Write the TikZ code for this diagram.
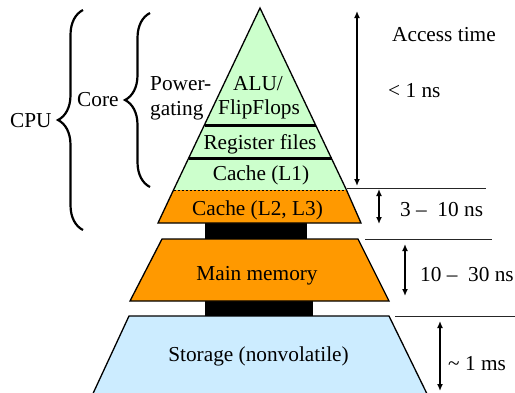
\documentclass[tikz,border=0pt]{standalone}
\usepackage{fontspec}
\setmainfont{Liberation Serif}
\usetikzlibrary{decorations.pathreplacing,arrows.meta}
\definecolor{lgreen}{RGB}{204,255,204}
\definecolor{orng}{RGB}{255,153,0}
\definecolor{lblue}{RGB}{204,236,255}
\begin{document}
\begin{tikzpicture}[x=1pt,y=-1pt,
  txt/.style={inner sep=0pt,font=\fontsize{21.3}{25}\selectfont},
  outl/.style={draw=black,line width=1.3pt,line join=miter},
  sep/.style={draw=black,line width=3pt},
  hline/.style={draw=black!85,line width=0.9pt},
  dbl/.style={line width=1.8pt,{Latex[length=7pt,width=6pt]}-{Latex[length=7pt,width=6pt]}},
  bracestyle/.style={decorate,line width=2.2pt,decoration={brace,amplitude=25pt}}]
\useasboundingbox (0,0) rectangle (515,392);
\begin{scope}
\clip (0,0) rectangle (515,392);
% black connectors
\fill[black] (205,223) rectangle (307,240);
\fill[black] (205,301) rectangle (313,317);
% green triangle
\fill[lgreen] (260,8) -- (346.5,190) -- (173.5,190) -- cycle;
\draw[outl] (173.5,190) -- (260,8) -- (346.5,190);
\draw[sep] (204.5,125) -- (315.5,125);
\draw[sep] (188.5,158) -- (331.5,158);
% orange cache L2 L3
\fill[orng] (173.5,190) -- (346.5,190) -- (361,223) -- (158,223) -- cycle;
\draw[outl] (346.5,190) -- (361,223) -- (158,223) -- (173.5,190);
\draw[black,line width=0.6pt,dash pattern=on 2pt off 2pt] (173.5,190) -- (346.5,190);
% main memory
\filldraw[outl,fill=orng] (162,239) -- (358,239) -- (389,301) -- (130,301) -- cycle;
% storage
\fill[lblue] (129,316) -- (389,316) -- (430,400) -- (90,400) -- cycle;
\draw[outl] (90,400) -- (129,316) -- (389,316) -- (430,400);
\end{scope}
% texts in pyramid
\node[txt,anchor=base] (alu) at (258,90) {ALU/};
\node[txt,anchor=base] (ff) at (259,114.5) {FlipFlops};
\node[txt,anchor=base] (reg) at (260,149.5) {Register files};
\node[txt,anchor=base] (l1) at (261,180) {Cache (L1)};
\node[txt,anchor=base] (l23) at (257.5,215) {Cache (L2, L3)};
\node[txt,anchor=base] (mm) at (257,280) {Main memory};
\node[txt,anchor=base] (st) at (258.5,361.5) {Storage (nonvolatile)};
% left labels
\node[txt,anchor=base west] (cpu) at (10,127.5) {CPU};
\node[txt,anchor=base west] (core) at (77,106) {Core};
\node[txt,anchor=base west] (pw1) at (150,90.5) {Power-};
\node[txt,anchor=base west] (pw2) at (150,115) {gating};
% braces
\coordinate (cpub) at (83,230);
\coordinate (cput) at (83,10);
\coordinate (coreb) at (150,187);
\coordinate (coret) at (150,13);
\draw[bracestyle] (cpub) -- (cput);
\draw[bracestyle] (coreb) -- (coret);
% right side
\node[txt,anchor=base west] (acc) at (392,41) {Access time};
\node[txt,anchor=base west] (t1) at (388,97) {< 1 ns};
\node[txt,anchor=base west] (t2) at (400,216) {3 –\ \ 10 ns};
\node[txt,anchor=base west] (t3) at (420,281) {10 –\ \ 30 ns};
\node[txt,anchor=base west] (t4) at (448,370) {\textasciitilde\ 1 ms};
% horizontal lines
\coordinate (h1a) at (347,188); \coordinate (h1b) at (486,188);
\coordinate (h2a) at (365,239); \coordinate (h2b) at (492,239);
\coordinate (h3a) at (395,316); \coordinate (h3b) at (515,316);
\draw[hline] (h1a) -- (h1b);
\draw[hline] (h2a) -- (h2b);
\draw[hline] (h3a) -- (h3b);
% arrows
\coordinate (a1t) at (357,11); \coordinate (a1b) at (357,186);
\coordinate (a2t) at (379,189); \coordinate (a2b) at (379,224);
\coordinate (a3t) at (405,244); \coordinate (a3b) at (405,296);
\coordinate (a4t) at (440,321); \coordinate (a4b) at (440,391);
\draw[dbl] (a1t) -- (a1b);
\draw[dbl] (a2t) -- (a2b);
\draw[dbl] (a3t) -- (a3b);
\draw[dbl] (a4t) -- (a4b);
\end{tikzpicture}
\end{document}
